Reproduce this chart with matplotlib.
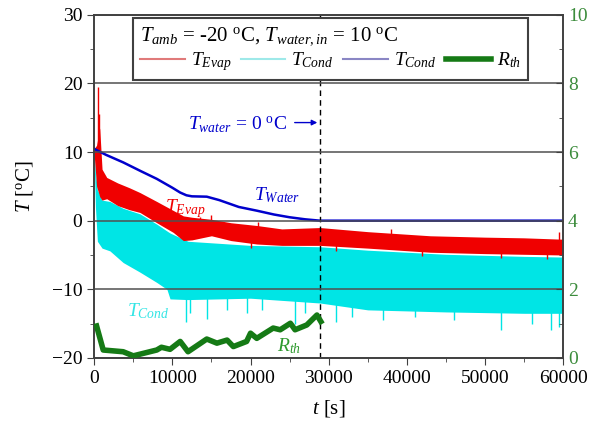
import matplotlib
matplotlib.use("Agg")
import matplotlib.pyplot as plt
from matplotlib.lines import Line2D
from matplotlib.ticker import MultipleLocator

plt.rcParams['font.family'] = ['Liberation Serif', 'DejaVu Serif']
plt.rcParams['mathtext.fontset'] = 'custom'
plt.rcParams['mathtext.rm'] = 'Liberation Serif'
plt.rcParams['mathtext.it'] = 'Liberation Serif:italic'

# ---------------- data ----------------
# T_Evap (red) : upper / lower envelope of the noisy band
t_evap = [0, 300, 700, 1000, 1600, 3000, 4500, 5850, 8000, 10100, 11400, 12500,
          15000, 17500, 20800, 24000, 28900, 35000, 43000, 50000, 55000, 60000]
evap_hi = [10.5, 11.0, 13.5, 7.5, 6.3, 5.5, 4.8, 4.1, 2.8, 1.5, 0.7, 0.5,
           0.2, -0.3, -0.7, -1.2, -1.0, -1.6, -2.2, -2.4, -2.5, -2.7]
evap_lo = [9.5, 5.0, 3.5, 3.0, 3.2, 2.2, 1.6, 1.2, -0.3, -1.7, -2.9, -2.8,
           -2.2, -2.9, -3.4, -3.6, -3.6, -4.0, -4.6, -4.8, -4.9, -5.0]
evap_spike_t = [500, 650, 13500, 15000, 21000, 38000, 59500]
evap_spike_T = [19.5, 15.5, 0.6, 0.8, -0.2, -1.2, -1.7]
evap_dip_t = [20000, 31000, 42000, 52000, 58000]
evap_dip_T = [-4.0, -4.4, -5.2, -5.4, -5.6]

# T_Cond (cyan) : upper / lower envelope
t_cond = [0, 150, 400, 1000, 2000, 3700, 5850, 8000, 9300, 9700, 12000, 20000,
          28900, 35000, 45000, 55000, 60000]
cond_hi = [10.0, 7.0, 4.5, 3.0, 2.8, 1.8, 1.0, -0.5, -1.5, -1.8, -3.0, -3.6,
           -3.8, -4.3, -4.9, -5.2, -5.3]
cond_lo = [9.0, 2.0, -3.0, -4.0, -4.4, -6.1, -7.5, -9.0, -10.0, -11.4, -11.5, -11.3,
           -12.0, -13.0, -13.3, -13.5, -13.5]
cond_spike_t = [11800, 12300, 14400, 17000, 19500, 21500, 25700, 27000, 31000,
                33000, 37000, 41000, 46000, 52000, 56000, 58500, 59500]
cond_spike_T = [-14.8, -13.5, -14.3, -13.0, -13.5, -13.0, -15.0, -13.5, -14.8,
                -14.0, -14.5, -14.0, -14.5, -16.0, -15.0, -16.0, -15.5]

# T_Water (blue)
t_water = [0, 100, 1500, 3700, 6000, 8000, 10000, 11000, 11800, 12500, 14400,
           16000, 18500, 20800, 23000, 25000, 27000, 28900, 35000, 45000, 60000]
T_water = [10.5, 10.4, 9.6, 8.5, 7.2, 6.1, 4.8, 4.1, 3.7, 3.55, 3.5,
           3.0, 2.0, 1.46, 0.9, 0.5, 0.2, 0.0, 0.0, 0.0, 0.0]

# R_th (green, right axis)
t_rth = [300, 1150, 3700, 5000, 8000, 8600, 9700, 11000, 12000, 14400, 15700,
         17000, 17800, 19500, 20000, 20800, 22900, 23800, 25100, 25700, 27200,
         28500, 29000]
R_th = [0.93, 0.23, 0.18, 0.06, 0.23, 0.31, 0.25, 0.48, 0.18, 0.55, 0.43,
        0.52, 0.33, 0.48, 0.72, 0.57, 0.87, 0.82, 1.01, 0.82, 0.96,
        1.25, 1.06]

t_dash = 28900

# ---------------- figure ----------------
fig = plt.figure(figsize=(5.89, 4.37), dpi=100)
ax = fig.add_axes([0.16, 0.181, 0.796, 0.785])

ax.fill_between(t_cond, cond_lo, cond_hi, color='#00e5e5', lw=0, zorder=1)
ax.vlines(cond_spike_t, [-11.0] * len(cond_spike_t), cond_spike_T,
          color='#00e5e5', lw=1, zorder=1)
ax.fill_between(t_evap, evap_lo, evap_hi, color='#f00000', lw=0, zorder=2)
ax.vlines(evap_spike_t, [9.0, 9.0, -1.0, -1.0, -2.0, -3.0, -3.0], evap_spike_T,
          color='#f00000', lw=1, zorder=2)
ax.vlines(evap_dip_t, [-3.0, -3.5, -4.0, -4.3, -4.5], evap_dip_T,
          color='#f00000', lw=1, zorder=2)
ax.plot(t_water, T_water, color='#0000cc', lw=1.8, zorder=3)
ax.axvline(t_dash, color='black', lw=1, dashes=(4, 3), zorder=4)

ax.set_xlim(0, 60000)
ax.set_ylim(-20, 30)
ax.xaxis.set_major_locator(MultipleLocator(10000))
ax.xaxis.set_minor_locator(MultipleLocator(5000))
ax.yaxis.set_major_locator(MultipleLocator(10))
ax.yaxis.set_minor_locator(MultipleLocator(5))
ax.tick_params(which='both', direction='out', labelsize=14, color='#404040')
ax.tick_params(which='major', length=5)
ax.tick_params(which='minor', length=3)
ax.tick_params(axis='y', right=False)
ax.set_xlabel(r'$t$ [s]', fontsize=15, labelpad=8)
ax.set_ylabel(r'$T$ [$^{\rm o}$C]', fontsize=15, labelpad=12)

# annotations
ax.text(12000, 13.2, r'$T_{water}$ = 0 $^{\rm o}$C', color='#0000cc', fontsize=14)
ax.annotate('', xy=(t_dash, 14.3), xytext=(25300, 14.3),
            arrowprops=dict(arrowstyle='-|>', color='#0000cc', lw=1,
                            mutation_scale=8))
ax.text(20400, 3.0, r'$T_{Water}$', color='#0000cc', fontsize=14)
ax.text(9000, 1.2, r'$T_{Evap}$', color='#f00000', fontsize=14)
ax.text(4200, -14.0, r'$T_{Cond}$', color='#33e5e5', fontsize=14)
ax.text(23400, -19.0, r'$R_{th}$', color='#2e9a2e', fontsize=14)

for s in ax.spines.values():
    s.set_color('#404040')
    s.set_linewidth(1.2)

# right axis
ax2 = ax.twinx()
ax2.plot(t_rth, R_th, color='#157a15', lw=4, zorder=5)
ax2.set_ylim(0, 10)
ax2.yaxis.set_major_locator(MultipleLocator(2))
ax2.yaxis.set_minor_locator(MultipleLocator(1))
ax2.tick_params(which='both', direction='in', labelsize=14, labelcolor='#3c8c3c',
                color='#404040')
ax2.tick_params(which='major', length=5)
ax2.tick_params(which='minor', length=3)
ax2.yaxis.grid(True, color='#505050', lw=1.1)
for s in ax2.spines.values():
    s.set_color('#404040')
    s.set_linewidth(1.2)

handles = [Line2D([], [], color='#e07a7a', lw=1.5),
           Line2D([], [], color='#9ee9e9', lw=1.5),
           Line2D([], [], color='#8a86c4', lw=1.5),
           Line2D([], [], color='#157a15', lw=4)]
labels = [r'$T_{Evap}$', r'$T_{Cond}$', r'$T_{Cond}$', r'$R_{th}$']
leg = ax2.legend(handles, labels, ncol=4, loc='upper left',
                 bbox_to_anchor=(0.083, 0.991),
                 title=r'$T_{amb}$ = -20 $^{\rm o}$C, $T_{water,in}$ = 10 $^{\rm o}$C',
                 title_fontsize=15, fontsize=14, alignment='left',
                 fancybox=False, framealpha=1, edgecolor='#404040',
                 handlelength=2.3, handletextpad=0.3, columnspacing=0.5,
                 borderpad=0.35, labelspacing=0.2, borderaxespad=0)
leg.get_frame().set_linewidth(1.5)
leg.set_zorder(10)

fig.savefig('out.png', dpi=100)
